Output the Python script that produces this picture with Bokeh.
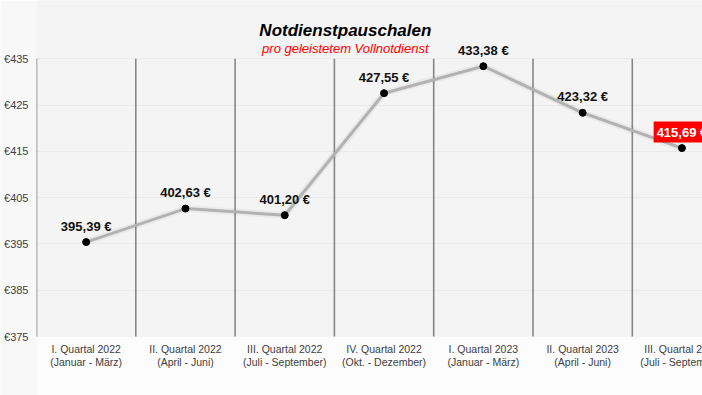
from bokeh.plotting import figure
from bokeh.models import Range1d, FixedTicker, PrintfTickFormatter, ColumnDataSource, Label
from bokeh.embed import file_html
from bokeh.resources import INLINE
from bokeh.core.properties import value

# ---- data ----
quarters = ["I. Quartal 2022", "II. Quartal 2022", "III. Quartal 2022", "IV. Quartal 2022",
            "I. Quartal 2023", "II. Quartal 2023", "III. Quartal 2023"]
months = ["(Januar - März)", "(April - Juni)", "(Juli - September)", "(Okt. - Dezember)",
          "(Januar - März)", "(April - Juni)", "(Juli - September)"]
values = [395.39, 402.63, 401.20, 427.55, 433.38, 423.32, 415.69]
y_ticks = [375, 385, 395, 405, 415, 425, 435]
title_text = "Notdienstpauschalen"
subtitle_text = "pro geleistetem Vollnotdienst"

FONT = "Liberation Sans"

n = len(values)
xs = [i + 0.5 for i in range(n)]
labels = [f"{v:.2f}".replace(".", ",") + " €" for v in values]
cat_labels = [f"{q}\n{m}" for q, m in zip(quarters, months)]

src = ColumnDataSource(dict(x=xs, y=values, label=labels))
src_norm = ColumnDataSource(dict(x=xs[:-1], y=values[:-1], label=labels[:-1]))
src_high = ColumnDataSource(dict(x=xs[-1:], y=values[-1:], label=labels[-1:]))
src_cat = ColumnDataSource(dict(x=xs, y=[y_ticks[0]] * n, label=cat_labels))

y_lo = 362.26
p = figure(width=702, height=395,
           x_range=Range1d(0, 6.707), y_range=Range1d(y_lo, 447.57),
           output_backend="svg", toolbar_location=None,
           min_border_left=36, min_border_right=0, min_border_top=0, min_border_bottom=0)

p.background_fill_color = "#f4f4f4"
p.border_fill_color = "#f8f8f8"
p.outline_line_color = None

# lighter band under the plotting area (category label zone)
p.quad(left=[0], right=[n], bottom=[y_lo], top=[y_ticks[0]],
       fill_color="#fcfcfc", line_color=None)

# grid
p.xgrid.grid_line_color = None
p.ygrid.ticker = FixedTicker(ticks=y_ticks)
p.ygrid.grid_line_color = "#eaeaea"
p.ygrid.grid_line_width = 1

# category separator lines
bounds = list(range(n))
p.segment(x0=bounds, x1=bounds, y0=[y_ticks[0]] * n, y1=[y_ticks[-1]] * n,
          line_color="#878787", line_width=1.6)

# y axis
p.yaxis.ticker = FixedTicker(ticks=y_ticks)
p.yaxis.formatter = PrintfTickFormatter(format="€%d")
p.yaxis.axis_line_color = None
p.yaxis.major_tick_line_color = None
p.yaxis.major_tick_out = 0
p.yaxis.minor_tick_line_color = None
p.yaxis.minor_tick_out = 0
p.yaxis.major_label_text_font = FONT
p.yaxis.major_label_text_font_size = "11px"
p.yaxis.major_label_text_color = "#404040"
p.yaxis.major_label_standoff = 8

# x axis replaced by category texts (so the last one is cut at the edge like the original)
p.xaxis.visible = False
p.text("x", "y", text="label", source=src_cat, text_font=value(FONT),
       text_font_size="10.5px", text_color="#404040", text_align="center",
       text_baseline="top", text_line_height=1.1, y_offset=6)

# line with soft shadow
p.line("x", "y", source=src, line_color="#000000", line_alpha=0.04, line_width=7)
p.line("x", "y", source=src, line_color="#b2b2b2", line_width=3)
p.scatter("x", "y", source=src, size=7, fill_color="black", line_color="black")

# value labels
p.text("x", "y", text="label", source=src_norm, text_font=value(FONT), text_font_style="bold",
       text_font_size="13px", text_color="#111111", text_align="center",
       text_baseline="alphabetic", y_offset=-16)
p.text("x", "y", text="label", source=src_high, text_font=value(FONT), text_font_style="bold",
       text_font_size="13px", text_color="white", text_align="center",
       text_baseline="alphabetic", y_offset=-16,
       background_fill_color="#ff0000", padding=3)

# title & subtitle
p.add_layout(Label(x=3.11, y=441.1, text=title_text, text_font=FONT, text_font_size="17px",
                   text_font_style="bold italic", text_color="#000000",
                   text_align="center", text_baseline="middle"))
p.add_layout(Label(x=3.11, y=437.2, text=subtitle_text, text_font=FONT, text_font_size="13px",
                   text_font_style="italic", text_color="#ff0000",
                   text_align="center", text_baseline="middle"))

open("out.html", "w").write(file_html(p, INLINE))
